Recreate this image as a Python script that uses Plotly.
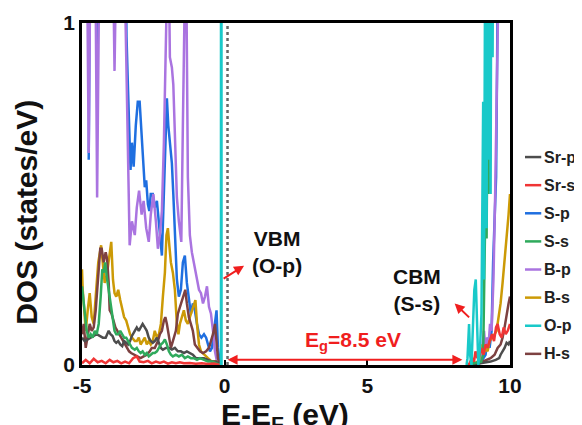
import plotly.graph_objects as go

# ---------------- data (energy in eV, DOS in states/eV) ----------------
series_names = ["Sr-p", "Sr-s", "S-p", "S-s", "B-p", "B-s", "O-p", "H-s"]
series_colors = ["#4d4d4d", "#f03535", "#1f6fe0", "#2faa5c", "#aa74e0", "#cc9a06", "#19c9c9", "#7d4141"]

# valence-band side (E < 0)
Bp_vb = [(-4.835, 1.3), (-4.765, 0.62), (-4.695, 1.3), (-4.54, 1.3), (-4.47, 0.49), (-4.38, 1.3), (-3.93, 1.3),
         (-3.86, 0.86), (-3.78, 1.3), (-3.54, 1.3), (-3.45, 0.9), (-3.385, 0.6), (-3.33, 0.35), (-3.25, 0.42),
         (-3.15, 0.38), (-3.08, 0.46), (-3.00, 0.51), (-2.91, 0.44), (-2.84, 0.48), (-2.75, 0.40), (-2.66, 0.36),
         (-2.59, 0.44), (-2.50, 0.50), (-2.41, 0.42), (-2.34, 0.34), (-2.27, 0.38), (-2.20, 0.45), (-2.13, 0.65),
         (-2.08, 1.3), (-1.975, 1.3), (-1.92, 0.90), (-1.85, 0.87), (-1.80, 0.82), (-1.745, 0.65), (-1.675, 0.49),
         (-1.605, 0.42), (-1.52, 0.36), (-1.465, 0.7), (-1.41, 1.3), (-1.36, 1.3), (-1.29, 0.55), (-1.22, 0.38),
         (-1.15, 0.33), (-1.08, 0.30), (-0.99, 0.26), (-0.90, 0.22), (-0.83, 0.21), (-0.76, 0.18), (-0.69, 0.20),
         (-0.62, 0.23), (-0.55, 0.17), (-0.48, 0.15), (-0.41, 0.10), (-0.34, 0.04), (-0.27, 0.01)]
Sp_vb = [(-4.765, 0.60), (-4.71, 1.3), (-4.50, 1.3), (-4.47, 0.93), (-4.43, 1.3), (-3.49, 1.3), (-3.44, 0.96),
         (-3.385, 0.8), (-3.33, 0.60), (-3.30, 0.57), (-3.25, 0.65), (-3.19, 0.58), (-3.115, 0.70), (-3.045, 0.77),
         (-2.98, 0.77), (-2.93, 0.70), (-2.875, 0.62), (-2.80, 0.52), (-2.75, 0.54), (-2.69, 0.47), (-2.64, 0.45),
         (-2.59, 0.50), (-2.52, 0.50), (-2.45, 0.46), (-2.375, 0.48), (-2.305, 0.42), (-2.235, 0.34), (-2.20, 0.32),
         (-2.15, 0.45), (-2.095, 0.60), (-2.025, 0.78), (-1.975, 0.70), (-1.92, 0.64), (-1.85, 0.59), (-1.80, 0.50),
         (-1.745, 0.38), (-1.675, 0.25), (-1.605, 0.20), (-1.535, 0.22), (-1.465, 0.30), (-1.395, 0.32),
         (-1.325, 0.24), (-1.255, 0.20), (-1.185, 0.15), (-1.115, 0.18), (-1.045, 0.16), (-0.97, 0.12),
         (-0.90, 0.09), (-0.815, 0.08), (-0.725, 0.09), (-0.65, 0.08), (-0.585, 0.06), (-0.515, 0.04),
         (-0.445, 0.05), (-0.375, 0.10), (-0.285, 0.16), (-0.235, 0.05), (-0.165, 0.0)]
Bs_vb = [(-5.0, 0.28), (-4.975, 0.22), (-4.92, 0.16), (-4.87, 0.10), (-4.80, 0.16), (-4.73, 0.21), (-4.66, 0.14),
         (-4.59, 0.12), (-4.52, 0.20), (-4.43, 0.30), (-4.33, 0.35), (-4.27, 0.30), (-4.205, 0.24), (-4.135, 0.26),
         (-4.065, 0.30), (-3.975, 0.36), (-3.915, 0.25), (-3.86, 0.21), (-3.80, 0.20), (-3.73, 0.22), (-3.66, 0.19),
         (-3.59, 0.16), (-3.525, 0.14), (-3.45, 0.13), (-3.385, 0.11), (-3.315, 0.09), (-3.25, 0.08), (-3.15, 0.07),
         (-3.08, 0.07), (-3.01, 0.08), (-2.945, 0.06), (-2.875, 0.07), (-2.80, 0.08), (-2.73, 0.06), (-2.66, 0.07),
         (-2.59, 0.06), (-2.52, 0.07), (-2.45, 0.10), (-2.375, 0.08), (-2.305, 0.09), (-2.235, 0.12), (-2.165, 0.20),
         (-2.095, 0.27), (-2.04, 0.38), (-1.99, 0.40), (-1.94, 0.35), (-1.885, 0.30), (-1.815, 0.27), (-1.745, 0.22),
         (-1.675, 0.12), (-1.62, 0.09), (-1.57, 0.12), (-1.50, 0.14), (-1.43, 0.16), (-1.36, 0.13), (-1.29, 0.12),
         (-1.22, 0.14), (-1.15, 0.16), (-1.08, 0.18), (-1.025, 0.19), (-0.97, 0.12), (-0.90, 0.06), (-0.83, 0.04),
         (-0.725, 0.03), (-0.585, 0.02), (-0.445, 0.01), (-0.305, 0.01), (-0.165, 0.0)]
Hs_vb = [(-5.0, 0.09), (-4.94, 0.12), (-4.87, 0.05), (-4.80, 0.08), (-4.73, 0.12), (-4.66, 0.10), (-4.59, 0.11),
         (-4.52, 0.16), (-4.43, 0.28), (-4.36, 0.34), (-4.31, 0.34), (-4.24, 0.30), (-4.17, 0.33), (-4.12, 0.31),
         (-4.065, 0.24), (-4.03, 0.16), (-3.965, 0.15), (-3.90, 0.13), (-3.83, 0.11), (-3.76, 0.10), (-3.695, 0.09),
         (-3.625, 0.08), (-3.555, 0.07), (-3.49, 0.06), (-3.42, 0.05), (-3.35, 0.04), (-3.28, 0.035), (-3.15, 0.03),
         (-3.045, 0.025), (-2.945, 0.02), (-2.84, 0.025), (-2.73, 0.03), (-2.625, 0.04), (-2.555, 0.05),
         (-2.45, 0.05), (-2.34, 0.07), (-2.27, 0.09), (-2.20, 0.10), (-2.13, 0.13), (-2.08, 0.14), (-2.025, 0.12),
         (-1.955, 0.08), (-1.885, 0.05), (-1.815, 0.07), (-1.71, 0.10), (-1.64, 0.15), (-1.57, 0.17), (-1.50, 0.19),
         (-1.43, 0.21), (-1.38, 0.22), (-1.325, 0.18), (-1.255, 0.14), (-1.185, 0.12), (-1.115, 0.10),
         (-1.045, 0.06), (-0.97, 0.05), (-0.865, 0.04), (-0.76, 0.035), (-0.65, 0.04), (-0.55, 0.05), (-0.48, 0.07),
         (-0.41, 0.09), (-0.34, 0.12), (-0.285, 0.06), (-0.235, 0.02), (-0.165, 0.0)]
Ss_vb = [(-5.0, 0.23), (-4.975, 0.21), (-4.905, 0.14), (-4.835, 0.10), (-4.765, 0.08), (-4.695, 0.09),
         (-4.625, 0.08), (-4.555, 0.10), (-4.485, 0.09), (-4.415, 0.12), (-4.345, 0.20), (-4.29, 0.28),
         (-4.24, 0.27), (-4.185, 0.30), (-4.135, 0.26), (-4.065, 0.22), (-4.00, 0.17), (-3.93, 0.14), (-3.86, 0.10),
         (-3.80, 0.09), (-3.73, 0.09), (-3.66, 0.10), (-3.59, 0.09), (-3.525, 0.08), (-3.45, 0.08), (-3.385, 0.07),
         (-3.315, 0.06), (-3.25, 0.05), (-3.15, 0.045), (-3.08, 0.05), (-3.01, 0.04), (-2.945, 0.035),
         (-2.875, 0.04), (-2.80, 0.03), (-2.73, 0.035), (-2.66, 0.025), (-2.59, 0.03), (-2.52, 0.035),
         (-2.45, 0.035), (-2.375, 0.04), (-2.305, 0.05), (-2.235, 0.06), (-2.165, 0.065), (-2.095, 0.075),
         (-2.025, 0.06), (-1.955, 0.04), (-1.885, 0.03), (-1.815, 0.025), (-1.71, 0.03), (-1.605, 0.025),
         (-1.50, 0.03), (-1.395, 0.02), (-1.29, 0.025), (-1.185, 0.02), (-1.08, 0.02), (-0.97, 0.015),
         (-0.865, 0.02), (-0.725, 0.015), (-0.585, 0.01), (-0.445, 0.01), (-0.305, 0.005), (-0.165, 0.0)]
Srp_vb = [(-5.0, 0.08), (-4.905, 0.07), (-4.80, 0.075), (-4.695, 0.08), (-4.59, 0.085), (-4.485, 0.09),
          (-4.38, 0.085), (-4.27, 0.08), (-4.17, 0.08), (-4.065, 0.10), (-4.00, 0.09), (-3.93, 0.085),
          (-3.86, 0.07), (-3.80, 0.065), (-3.73, 0.07), (-3.66, 0.06), (-3.59, 0.055), (-3.525, 0.07),
          (-3.45, 0.065), (-3.385, 0.06), (-3.315, 0.07), (-3.25, 0.085), (-3.15, 0.10), (-3.08, 0.11),
          (-3.01, 0.10), (-2.945, 0.11), (-2.875, 0.12), (-2.80, 0.11), (-2.73, 0.10), (-2.66, 0.08), (-2.59, 0.07),
          (-2.52, 0.065), (-2.45, 0.07), (-2.375, 0.08), (-2.305, 0.065), (-2.235, 0.05), (-2.165, 0.045),
          (-2.06, 0.05), (-1.955, 0.05), (-1.85, 0.045), (-1.745, 0.05), (-1.64, 0.04), (-1.535, 0.04),
          (-1.43, 0.035), (-1.325, 0.04), (-1.22, 0.035), (-1.115, 0.03), (-1.01, 0.02), (-0.865, 0.02),
          (-0.725, 0.02), (-0.585, 0.015), (-0.445, 0.01), (-0.305, 0.01), (-0.165, 0.0)]
Srs_vb = [(-5.0, 0.005), (-4.87, 0.015), (-4.73, 0.005), (-4.59, 0.018), (-4.45, 0.008), (-4.31, 0.012),
          (-4.17, 0.005), (-4.03, 0.015), (-3.90, 0.008), (-3.76, 0.012), (-3.625, 0.005), (-3.49, 0.01),
          (-3.35, 0.005), (-3.21, 0.02), (-3.08, 0.025), (-2.98, 0.01), (-2.84, 0.008), (-2.69, 0.012),
          (-2.555, 0.005), (-2.41, 0.01), (-2.27, 0.006), (-2.13, 0.01), (-1.99, 0.004), (-1.85, 0.008),
          (-1.71, 0.005), (-1.57, 0.008), (-1.43, 0.005), (-1.22, 0.006), (-1.01, 0.004), (-0.80, 0.005),
          (-0.585, 0.003), (-0.375, 0.004), (-0.165, 0.0)]
Op_vb = [(-0.13, 0.0), (-0.12, 8.0), (-0.11, 0.0)]

# conduction-band side (E > 8.4)
Op_cb = [(8.477, 0.0), (8.51, 0.02), (8.565, 0.12), (8.60, 0.03), (8.65, 0.0), (8.70, 0.10), (8.75, 0.22),
         (8.80, 0.25), (8.84, 0.12), (8.89, 0.0), (8.95, 0.05), (9.00, 0.15), (9.06, 0.77), (9.09, 0.25),
         (9.144, 1.6), (9.18, 0.4), (9.215, 1.6), (9.25, 0.6), (9.285, 1.6), (9.32, 0.5), (9.355, 1.6),
         (9.39, 0.9), (9.425, 1.6), (10.0, 1.8)]
Ss_cb = [(8.477, 0.0), (8.8, 0.005), (8.99, 0.01), (9.06, 0.03), (9.11, 0.37), (9.144, 0.5), (9.18, 0.37),
         (9.215, 0.8), (9.25, 0.5), (9.30, 0.6), (9.34, 1.5), (10.0, 1.8)]
Bp_cb = [(8.6, 0.0), (8.83, 0.005), (8.99, 0.02), (9.04, 0.06), (9.09, 0.10), (9.144, 0.04), (9.197, 0.08),
         (9.25, 0.06), (9.30, 0.12), (9.355, 0.1), (9.42, 0.25), (9.48, 0.5), (9.566, 0.8), (9.62, 1.05),
         (9.67, 1.5), (10.0, 1.8)]
Sp_cb = [(8.6, 0.0), (8.99, 0.01), (9.144, 0.03), (9.215, 0.08), (9.285, 0.05), (9.355, 0.1), (9.408, 0.3),
         (9.46, 0.42), (9.513, 0.55), (9.55, 0.9), (9.60, 1.5), (10.0, 1.8)]
Bs_cb = [(8.55, 0.0), (8.67, 0.01), (8.83, 0.005), (8.93, 0.02), (9.00, 0.06), (9.07, 0.03), (9.144, 0.05),
         (9.215, 0.04), (9.285, 0.07), (9.38, 0.08), (9.46, 0.09), (9.53, 0.10), (9.60, 0.14), (9.67, 0.18),
         (9.74, 0.24), (9.81, 0.30), (9.88, 0.36), (9.95, 0.44), (10.0, 0.5)]
Hs_cb = [(8.6, 0.0), (8.93, 0.005), (9.04, 0.01), (9.18, 0.015), (9.32, 0.02), (9.46, 0.03), (9.566, 0.05),
         (9.67, 0.06), (9.74, 0.08), (9.81, 0.11), (9.88, 0.15), (9.95, 0.18), (10.0, 0.2)]
Srs_cb = [(8.55, 0.0), (8.67, 0.02), (8.74, 0.01), (8.79, 0.04), (8.86, 0.02), (8.93, 0.03), (9.00, 0.05),
          (9.07, 0.03), (9.144, 0.06), (9.215, 0.05), (9.285, 0.07), (9.37, 0.09), (9.44, 0.07), (9.51, 0.11),
          (9.566, 0.12), (9.64, 0.09), (9.71, 0.08), (9.777, 0.11), (9.85, 0.09), (9.92, 0.10), (10.0, 0.12)]
Srp_cb = [(8.6, 0.0), (8.99, 0.005), (9.32, 0.01), (9.50, 0.015), (9.62, 0.02), (9.67, 0.03), (9.74, 0.04),
          (9.81, 0.05), (9.88, 0.065), (9.95, 0.06), (10.0, 0.07)]

x_ticks = [-5, 0, 5, 10]
y_ticks = [0, 1]
fermi_level = 0.1
vbm_energy = 0.05
cbm_energy = 8.33
gap_label = "E<sub>g</sub>=8.5 eV"

# ---------------- figure ----------------
FONT = "Arial, Liberation Sans, sans-serif"
data_by_name = {
    "Sr-p": (Srp_vb, Srp_cb), "Sr-s": (Srs_vb, Srs_cb), "S-p": (Sp_vb, Sp_cb), "S-s": (Ss_vb, Ss_cb),
    "B-p": (Bp_vb, Bp_cb), "B-s": (Bs_vb, Bs_cb), "O-p": (Op_vb, Op_cb), "H-s": (Hs_vb, Hs_cb),
}
color_by_name = dict(zip(series_names, series_colors))
draw_order = ["S-p", "B-p", "B-s", "H-s", "Sr-p", "S-s", "Sr-s", "O-p"]

fig = go.Figure()
for name in draw_order:
    vb, cb = data_by_name[name]
    xs = [p[0] for p in vb] + [None] + [p[0] for p in cb]
    ys = [p[1] for p in vb] + [None] + [p[1] for p in cb]
    fig.add_trace(go.Scatter(x=xs, y=ys, mode="lines", name=name, showlegend=False,
                             line=dict(color=color_by_name[name], width=2.5), connectgaps=False))

fig.add_shape(type="line", xref="x", yref="y", x0=fermi_level, x1=fermi_level, y0=0, y1=1,
              line=dict(color="#666666", width=2.5, dash="3px,3px"), layer="above")

RED = "#f01e1e"
# VBM arrow and label
fig.add_annotation(x=0.68, y=0.29, ax=-0.09, ay=0.25, xref="x", yref="y", axref="x", ayref="y",
                   text="", showarrow=True, arrowhead=2, arrowsize=1, arrowwidth=2, arrowcolor=RED)
fig.add_annotation(x=1.85, y=0.33, xref="x", yref="y", text="<b>VBM<br>(O-p)</b>", showarrow=False,
                   font=dict(family=FONT, size=21, color="#111111"), align="center")
# CBM arrow and label
fig.add_annotation(x=8.06, y=0.18, ax=8.62, ay=0.135, xref="x", yref="y", axref="x", ayref="y",
                   text="", showarrow=True, arrowhead=2, arrowsize=1, arrowwidth=2, arrowcolor=RED)
fig.add_annotation(x=6.75, y=0.22, xref="x", yref="y", text="<b>CBM<br>(S-s)</b>", showarrow=False,
                   font=dict(family=FONT, size=21, color="#111111"), align="center")
# band gap double arrow and label
fig.add_annotation(x=cbm_energy, y=0.015, ax=vbm_energy, ay=0.015, xref="x", yref="y", axref="x", ayref="y",
                   text="", showarrow=True, arrowhead=2, startarrowhead=2, arrowside="end+start",
                   arrowsize=1, arrowwidth=2, arrowcolor=RED)
fig.add_annotation(x=4.48, y=0.07, xref="x", yref="y", text="<b>" + gap_label + "</b>", showarrow=False,
                   font=dict(family=FONT, size=21, color=RED))

# axis titles
fig.add_annotation(x=-0.1285, y=0.445, xref="paper", yref="paper", xanchor="center", yanchor="middle",
                   text="<b>DOS (states/eV)</b>", textangle=-90, showarrow=False,
                   font=dict(family=FONT, size=30, color="#111111"))
fig.add_annotation(x=0.475, y=-0.09, xref="paper", yref="paper", xanchor="center", yanchor="top",
                   text="<b>E-E<sub>F</sub> (eV)</b>", showarrow=False,
                   font=dict(family=FONT, size=30, color="#111111"))

# custom legend
legend_top, legend_step = 0.608, 0.0822
for i, name in enumerate(series_names):
    yy = legend_top - i * legend_step
    fig.add_shape(type="line", xref="paper", yref="paper", x0=1.035, x1=1.073, y0=yy, y1=yy,
                  line=dict(color=color_by_name[name], width=2.5))
    fig.add_annotation(x=1.077, y=yy, xref="paper", yref="paper", xanchor="left", yanchor="middle",
                       text="<b>" + name + "</b>", showarrow=False, borderpad=0,
                       font=dict(family=FONT, size=16, color="#222222"))

axis_common = dict(showline=True, mirror=True, linecolor="black", linewidth=2.5, ticks="inside",
                   ticklen=5, tickwidth=1.5, tickcolor="black", showgrid=False, zeroline=False,
                   tickfont=dict(family=FONT, size=21, color="#111111", weight="bold"))
fig.update_xaxes(range=[-5, 10], tickvals=x_ticks, ticktext=[str(v) for v in x_ticks], **axis_common)
fig.update_yaxes(range=[0, 1], tickvals=y_ticks, ticktext=[str(v) for v in y_ticks], **axis_common)

# the page body adds an 8px offset, so the figure is 8px smaller than the window
fig.update_layout(width=574, height=417, margin=dict(l=74, r=72, t=15, b=60, autoexpand=False),
                  plot_bgcolor="white", paper_bgcolor="white", showlegend=False,
                  font=dict(family=FONT))
fig.write_html("out.html")
